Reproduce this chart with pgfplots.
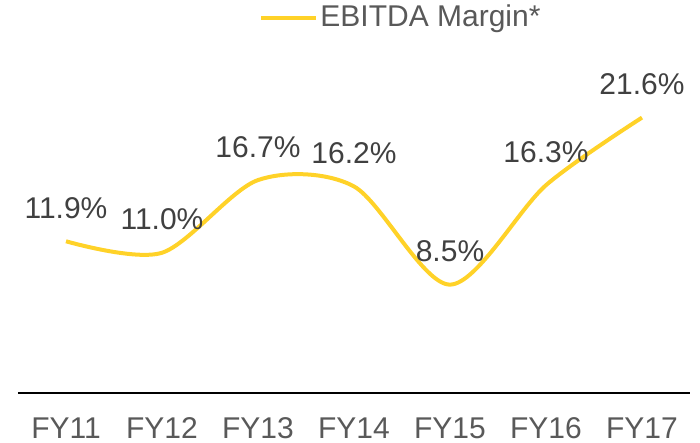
\documentclass[border=0pt]{standalone}
\usepackage{pgfplots}
\pgfplotsset{compat=1.18}
\usepackage{fontspec}
\setmainfont{Liberation Sans}
\definecolor{ylw}{RGB}{255,210,40}
\definecolor{lbl}{RGB}{64,64,64}
\definecolor{tck}{RGB}{89,89,89}
\begin{document}
\fontsize{30bp}{36bp}\selectfont
\begin{tikzpicture}
\begin{axis}[
  at={(0,0)}, anchor=south west,
  scale only axis, width=672bp, height=357bp,
  xmin=-0.5, xmax=6.5, ymin=0, ymax=28,
  clip=false,
  axis x line*=bottom, axis y line=none,
  x axis line style={black, line width=1.8bp},
  xtick={0,...,6},
  xticklabels={FY11,FY12,FY13,FY14,FY15,FY16,FY17},
  major tick length=0pt,
  xticklabel style={anchor=base, yshift=-45bp, text=tck, font=\fontsize{30bp}{36bp}\selectfont},
  ytick=\empty,
  nodes near coords,
  point meta=explicit symbolic,
  every node near coord/.append style={anchor=base, yshift=23bp, text=lbl, font=\fontsize{30bp}{36bp}\selectfont},
  legend style={draw=none, fill=none, at={(0.359,1.05)}, anchor=west, inner sep=0pt,
    font=\fontsize{30bp}{36bp}\selectfont, text=tck, legend cell align=left},
  legend image code/.code={\path (0bp,0bp) -- (55bp,0bp);\draw[line width=4bp, ylw] (0bp,0bp) -- (51bp,0bp);},
]
\addplot[ylw, line width=4bp, smooth, tension=0.5] coordinates {
  (0,11.9) [11.9\%]
  (1,11.0) [11.0\%]
  (2,16.7) [16.7\%]
  (3,16.2) [16.2\%]
  (4,8.5) [8.5\%]
  (5,16.3) [16.3\%]
  (6,21.6) [21.6\%]
};
\addlegendentry{EBITDA Margin*}
\end{axis}
\pgfresetboundingbox
\useasboundingbox (-18bp,-50bp) rectangle (682bp,393bp);
\end{tikzpicture}
\end{document}
